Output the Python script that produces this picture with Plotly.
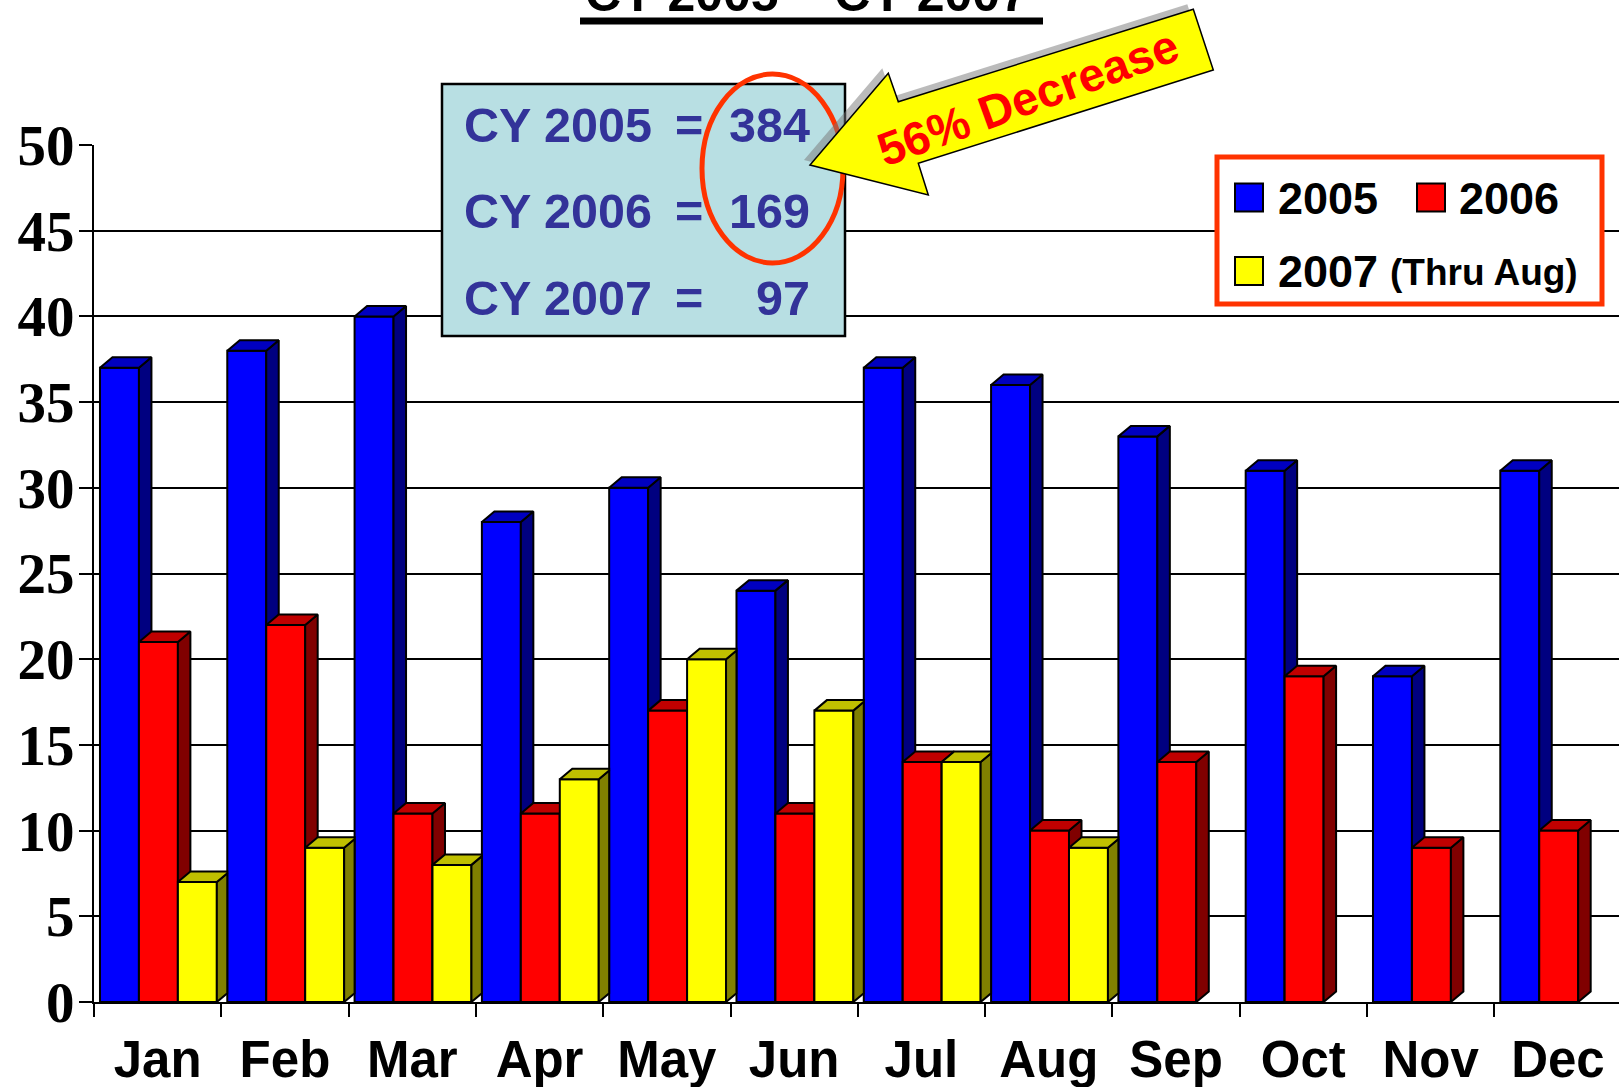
import plotly.graph_objects as go

# ---------------- data ----------------
months = ["Jan", "Feb", "Mar", "Apr", "May", "Jun", "Jul", "Aug", "Sep", "Oct", "Nov", "Dec"]
cy2005 = [37, 38, 40, 28, 30, 24, 37, 36, 33, 31, 19, 31]
cy2006 = [21, 22, 11, 11, 17, 11, 14, 10, 14, 19, 9, 10]
cy2007 = [7, 9, 8, 13, 20, 17, 14, 9]          # through August
series_names = ["2005", "2006", "2007"]
y_tick_vals = [0, 5, 10, 15, 20, 25, 30, 35, 40, 45, 50]
title_text = "CY 2005 \u2013 CY 2007"

# ---------------- geometry / style ----------------
W, H = 1619, 1087
ML, MR, MT, MB = 94, 0, 145, 85
PW, PH = W - ML - MR, H - MT - MB
CAT_PX = 127.3
XR = [-0.5, -0.5 + PW / CAT_PX]
YR = [0, 50]
BAR_W = 0.306
OFFS = [-0.453, -0.147, 0.159]
DX = 12.5 / CAT_PX
DY = 10.5 * (YR[1] - YR[0]) / PH

colors = [
    dict(front="#0000FF", top="#0000C0", side="#000080"),
    dict(front="#FF0000", top="#C00000", side="#800000"),
    dict(front="#FFFF00", top="#C0C000", side="#808000"),
]
axes = ["x", "x2", "x3"]
all_series = [cy2005, cy2006, cy2007]


def px_x(px):
    return (px - ML) / PW


def px_y(py):
    return 1 - (py - MT) / PH


def clip_right(poly, xlim):
    out = []
    n = len(poly)
    for k in range(n):
        cur, nxt = poly[k], poly[(k + 1) % n]
        cin, nin = cur[0] <= xlim, nxt[0] <= xlim
        if cin:
            out.append(cur)
        if cin != nin:
            t = (xlim - cur[0]) / (nxt[0] - cur[0])
            out.append((xlim, cur[1] + t * (nxt[1] - cur[1])))
    return out


def poly_trace(polys, color, xa):
    xs, ys = [], []
    for p in polys:
        if len(p) < 3:
            continue
        for (a, b) in p + [p[0]]:
            xs.append(a)
            ys.append(b)
        xs.append(None)
        ys.append(None)
    return go.Scatter(x=xs, y=ys, mode="lines", fill="toself", fillcolor=color,
                      line=dict(color="black", width=2), xaxis=xa, yaxis="y",
                      hoverinfo="skip", showlegend=False)


fig = go.Figure()

for s, vals in enumerate(all_series):
    idx = list(range(len(vals)))
    fig.add_trace(go.Bar(x=idx, y=vals, width=BAR_W, offset=OFFS[s], name=series_names[s],
                         marker=dict(color=colors[s]["front"], line=dict(color="black", width=2)),
                         xaxis=axes[s], yaxis="y", showlegend=False))
    sides, tops = [], []
    for i, v in enumerate(vals):
        x0 = i + OFFS[s]
        x1 = x0 + BAR_W
        side = [(x1, 0), (x1 + DX, DY), (x1 + DX, v + DY), (x1, v)]
        top = [(x0, v), (x1, v), (x1 + DX, v + DY), (x0 + DX, v + DY)]
        last_here = all(i >= len(all_series[k]) for k in range(s + 1, 3))
        if last_here and i + 1 < len(months):
            xlim = i + 1 + OFFS[0]
            side = clip_right(side, xlim)
            top = clip_right(top, xlim)
        sides.append(side)
        tops.append(top)
    fig.add_trace(poly_trace(sides, colors[s]["side"], axes[s]))
    fig.add_trace(poly_trace(tops, colors[s]["top"], axes[s]))

shapes = []
annotations = []

# title (cut off at top) with underline
annotations.append(dict(text="<b>" + title_text + "</b>", x=px_x(806), y=px_y(-6), xref="paper", yref="paper",
                        xanchor="center", yanchor="middle", showarrow=False,
                        font=dict(size=50, color="black", family="Liberation Sans")))
shapes.append(dict(type="line", xref="paper", yref="paper", x0=px_x(580), x1=px_x(1043),
                   y0=px_y(21), y1=px_y(21), line=dict(color="black", width=7), layer="above"))

# totals box
shapes.append(dict(type="rect", xref="paper", yref="paper", x0=px_x(442), x1=px_x(845),
                   y0=px_y(84), y1=px_y(336), fillcolor="#B8DFE3",
                   line=dict(color="black", width=2.5), layer="above"))
totals = [sum(cy2005), sum(cy2006), sum(cy2007)]
row_y = [124.7, 211.3, 298]
for k in range(3):
    f = dict(size=48.5, color="#333399", family="Liberation Sans")
    annotations.append(dict(text="<b>CY " + series_names[k] + "</b>", x=px_x(462), y=px_y(row_y[k]),
                            xref="paper", yref="paper", xanchor="left", yanchor="middle",
                            showarrow=False, font=f))
    annotations.append(dict(text="<b>=</b>", x=px_x(689), y=px_y(row_y[k]),
                            xref="paper", yref="paper", xanchor="center", yanchor="middle",
                            showarrow=False, font=f))
    annotations.append(dict(text="<b>%d</b>" % totals[k], x=px_x(812), y=px_y(row_y[k]),
                            xref="paper", yref="paper", xanchor="right", yanchor="middle",
                            showarrow=False, font=f))

# red ellipse
shapes.append(dict(type="circle", xref="paper", yref="paper", x0=px_x(702), x1=px_x(843),
                   y0=px_y(74), y1=px_y(263), line=dict(color="#FF3300", width=5), layer="above"))

# arrow (shadow + body)
arrow_px = [(810, 165), (888.3, 73.3), (898.3, 101.7), (1193.3, 9.3), (1213.3, 70),
            (918.3, 163.3), (928.3, 195)]


def path_from(pts, ox=0, oy=0):
    parts = []
    for j, (a, b) in enumerate(pts):
        parts.append(("M" if j == 0 else "L") + "%.5f,%.5f" % (px_x(a + ox), px_y(b + oy)))
    return " ".join(parts) + " Z"


shapes.append(dict(type="path", xref="paper", yref="paper", path=path_from(arrow_px, -6, -5),
                   fillcolor="rgba(120,120,120,0.5)", line=dict(width=0), layer="above"))
shapes.append(dict(type="path", xref="paper", yref="paper", path=path_from(arrow_px),
                   fillcolor="#FFFF00", line=dict(color="black", width=1.5), layer="above"))
pct = round(100 * (totals[0] - totals[1]) / totals[0])
annotations.append(dict(text="<b>%d%% Decrease</b>" % pct, x=px_x(1028), y=px_y(98),
                        xref="paper", yref="paper", xanchor="center", yanchor="middle",
                        textangle=-20, showarrow=False,
                        font=dict(size=47, color="#FF0000", family="Liberation Sans")))

# custom legend
shapes.append(dict(type="rect", xref="paper", yref="paper", x0=px_x(1217), x1=px_x(1602),
                   y0=px_y(157), y1=px_y(304), fillcolor="white",
                   line=dict(color="#FF3300", width=5), layer="above"))
leg_sq = [(1235, 183.5), (1417, 183.5), (1235, 257)]
leg_txt = [(1276, 198.5), (1457, 198.5), (1276, 271.5)]
for k in range(3):
    sx, sy = leg_sq[k]
    shapes.append(dict(type="rect", xref="paper", yref="paper", x0=px_x(sx), x1=px_x(sx + 28),
                       y0=px_y(sy), y1=px_y(sy + 28), fillcolor=colors[k]["front"],
                       line=dict(color="black", width=2), layer="above"))
    tx, ty = leg_txt[k]
    annotations.append(dict(text="<b>" + series_names[k] + "</b>", x=px_x(tx), y=px_y(ty),
                            xref="paper", yref="paper", xanchor="left", yanchor="middle",
                            showarrow=False, font=dict(size=45, color="black", family="Liberation Sans")))
annotations.append(dict(text="<b>(Thru Aug)</b>", x=px_x(1388), y=px_y(273),
                        xref="paper", yref="paper", xanchor="left", yanchor="middle",
                        showarrow=False, font=dict(size=37, color="black", family="Liberation Sans")))

fig.update_layout(
    width=W, height=H,
    margin=dict(l=ML, r=MR, t=MT, b=MB, pad=0, autoexpand=False),
    paper_bgcolor="white", plot_bgcolor="white",
    font=dict(family="Liberation Sans", color="black"),
    barmode="overlay",
    showlegend=False,
    shapes=shapes,
    annotations=annotations,
    xaxis=dict(range=XR, tickmode="array", tickvals=list(range(len(months))), ticktext=months,
               ticks="", showgrid=False, zeroline=False, showline=True, linecolor="black", linewidth=2,
               automargin=False,
               tickfont=dict(family="Liberation Sans", size=51, color="black", weight="bold"),
               ticklabelstandoff=12,
               minor=dict(tickmode="array", tickvals=[i - 0.5 for i in range(len(months) + 1)],
                          ticks="outside", ticklen=13, tickwidth=2, tickcolor="black", showgrid=False)),
    xaxis2=dict(range=XR, overlaying="x", visible=False, automargin=False),
    xaxis3=dict(range=XR, overlaying="x", visible=False, automargin=False),
    yaxis=dict(range=YR, tickmode="array", tickvals=y_tick_vals, showgrid=True, gridcolor="black",
               gridwidth=2, zeroline=False, showline=True, linecolor="black", linewidth=2,
               automargin=False,
               ticks="outside", ticklen=13, tickwidth=2, tickcolor="black",
               tickfont=dict(family="Liberation Serif", size=57, color="black", weight="bold"),
               ticklabelstandoff=-7),
)

fig.write_html("out.html", config={"displayModeBar": False},
               post_script="document.body.style.margin='0px';document.body.style.overflow='hidden';")
